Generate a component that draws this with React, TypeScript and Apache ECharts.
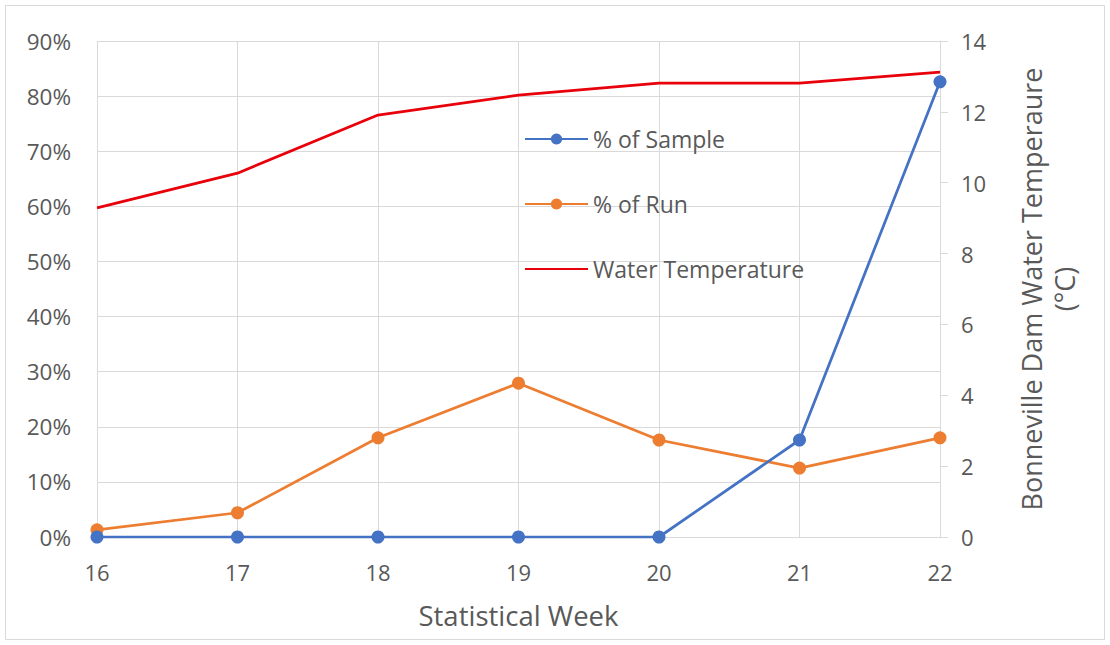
import React, { useEffect, useRef } from "react";
import * as echarts from "echarts";

const weeks = ["16", "17", "18", "19", "20", "21", "22"];
const pctSample = [0, 0, 0, 0, 0, 17.6, 82.6];
const pctRun = [1.3, 4.4, 18.0, 27.9, 17.6, 12.5, 18.0];
const waterTemp = [9.29, 10.27, 11.91, 12.47, 12.81, 12.81, 13.12];

const FONT = "'Open Sans', 'Noto Sans', sans-serif";
const TEXT = "#595959";
const GRID = "#D9D9D9";

export default function App() {
  const ref = useRef<HTMLDivElement>(null);

  useEffect(() => {
    if (!ref.current) return;
    const chart = echarts.init(ref.current, undefined, { renderer: "svg" });
    chart.setOption({
      animation: false,
      backgroundColor: "#ffffff",
      textStyle: { fontFamily: FONT, color: TEXT },
      graphic: [
        {
          type: "rect",
          shape: { x: 5.5, y: 5.5, width: 1099, height: 634 },
          style: { fill: "none", stroke: "#D9D9D9", lineWidth: 1 },
          silent: true,
        },
      ],
      grid: { left: 97, right: 170, top: 41, bottom: 108, containLabel: false },
      legend: {
        orient: "vertical",
        left: 519,
        top: 121,
        itemGap: 39,
        itemWidth: 63,
        itemHeight: 14,
        textStyle: { fontFamily: FONT, color: TEXT, fontSize: 23, lineHeight: 26 },
        data: [
          "% of Sample",
          "% of Run",
          { name: "Water Temperature", itemStyle: { opacity: 0 } },
        ],
      },
      xAxis: {
        type: "category",
        data: weeks,
        boundaryGap: false,
        name: "Statistical Week",
        nameLocation: "middle",
        nameGap: 64,
        nameTextStyle: { fontFamily: FONT, color: TEXT, fontSize: 27.5 },
        axisLine: { show: true, lineStyle: { color: GRID, width: 1 } },
        axisTick: { show: false },
        axisLabel: { fontFamily: FONT, color: TEXT, fontSize: 22, margin: 24 },
        splitLine: { show: true, lineStyle: { color: GRID, width: 1 } },
      },
      yAxis: [
        {
          type: "value",
          min: 0,
          max: 90,
          interval: 10,
          axisLine: { show: false },
          axisTick: { show: false },
          axisLabel: {
            fontFamily: FONT,
            color: TEXT,
            fontSize: 22.5,
            margin: 26,
            formatter: "{value}%",
          },
          splitLine: { show: true, lineStyle: { color: GRID, width: 1 } },
        },
        {
          type: "value",
          min: 0,
          max: 14,
          interval: 2,
          position: "right",
          name: "Bonneville Dam Water Temperaure\n(°C)",
          nameLocation: "middle",
          nameRotate: 90,
          nameGap: 75,
          nameTextStyle: {
            fontFamily: FONT,
            color: TEXT,
            fontSize: 27,
            lineHeight: 33,
          },
          axisLine: { show: true, lineStyle: { color: GRID, width: 1 } },
          axisTick: {
            show: true,
            inside: false,
            length: 8,
            lineStyle: { color: GRID, width: 1 },
          },
          axisLabel: { fontFamily: FONT, color: TEXT, fontSize: 22, margin: 21 },
          splitLine: { show: false },
        },
      ],
      series: [
        {
          name: "% of Sample",
          type: "line",
          yAxisIndex: 0,
          data: pctSample,
          symbol: "circle",
          symbolSize: 13,
          lineStyle: { color: "#4472C4", width: 2.75 },
          itemStyle: { color: "#4472C4" },
          z: 3,
        },
        {
          name: "% of Run",
          type: "line",
          yAxisIndex: 0,
          data: pctRun,
          symbol: "circle",
          symbolSize: 13,
          lineStyle: { color: "#ED7D31", width: 2.75 },
          itemStyle: { color: "#ED7D31" },
          z: 2,
        },
        {
          name: "Water Temperature",
          type: "line",
          yAxisIndex: 1,
          data: waterTemp,
          symbol: "none",
          lineStyle: { color: "#E8000B", width: 2.75 },
          itemStyle: { color: "#E8000B" },
          z: 4,
        },
      ],
    });
    return () => chart.dispose();
  }, []);

  return (
    <div
      ref={ref}
      style={{ position: "absolute", left: 0, top: 0, width: 1110, height: 645 }}
    />
  );
}
